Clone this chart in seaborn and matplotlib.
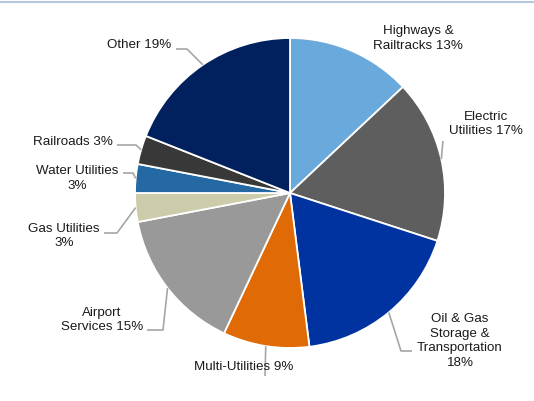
import numpy as np
import matplotlib
matplotlib.use("Agg")
import matplotlib.pyplot as plt
from matplotlib.lines import Line2D
import seaborn as sns

# Sector mix (percent of total)
sectors = ["Highways & Railtracks", "Electric Utilities", "Oil & Gas Storage & Transportation",
           "Multi-Utilities", "Airport Services", "Gas Utilities", "Water Utilities",
           "Railroads", "Other"]
shares = [13, 17, 18, 9, 15, 3, 3, 3, 19]
label_texts = ["Highways &\nRailtracks 13%", "Electric\nUtilities 17%",
               "Oil & Gas\nStorage &\nTransportation\n18%", "Multi-Utilities 9%",
               "Airport\nServices 15%", "Gas Utilities\n3%", "Water Utilities\n3%",
               "Railroads 3%", "Other 19%"]
colors = ["#6AA9DC", "#5E5E5E", "#0033A0", "#E06A05", "#999999",
          "#CCCCAA", "#2469A3", "#383838", "#00215E"]

sns.set_theme(style="white")
plt.rcParams["font.family"] = ["Liberation Sans", "DejaVu Sans"]

W, H, DPI = 534, 401, 100
CX, CY, R = 290, 193, 155  # pie centre and radius in pixels


def px(x, y):
    """Pixel position -> data coordinates (pie radius = 1)."""
    return (x - CX) / R, (CY - y) / R


fig = plt.figure(figsize=(W / DPI, H / DPI), dpi=DPI)
ax = fig.add_axes([0, 0, 1, 1])

wedges, _ = ax.pie(shares, colors=colors, startangle=90, counterclock=False,
                   radius=1, center=(0, 0), frame=True,
                   wedgeprops=dict(edgecolor="white", linewidth=1.3))
ax.set_xlim((0 - CX) / R, (W - CX) / R)
ax.set_ylim((CY - H) / R, CY / R)
ax.set_aspect("equal")
ax.axis("off")

# Label placement (pixel centre of text) and leader-line bend points
layout = [
    ((418, 38.5), []),
    ((486, 124), [(443, 141)]),
    ((460, 341), [(401, 351), (412, 351)]),
    ((243.5, 367), [(265, 376)]),
    ((102, 320), [(163, 330), (147, 330)]),
    ((64, 236), [(117, 233), (104, 233)]),
    ((77.5, 178.5), [(133, 173), (123, 173)]),
    ((72.5, 142), [(136, 145), (117, 145)]),
    ((139.5, 45), [(187, 49), (176, 49)]),
]

lead_color = "#A6A6A6"
for w, text, (pos, bends) in zip(wedges, label_texts, layout):
    if bends:
        mid = np.deg2rad((w.theta1 + w.theta2) / 2)
        pts = [(np.cos(mid), np.sin(mid))] + [px(*b) for b in bends]
        xs, ys = zip(*pts)
        ax.plot(xs, ys, color=lead_color, lw=1.2, solid_capstyle="butt", zorder=1)
    tx, ty = px(*pos)
    ax.text(tx, ty, text, ha="center", va="center", multialignment="center",
            fontsize=9.6, color="#1A1A1A", linespacing=1.32, zorder=3)

# thin rule along the top edge
fig.add_artist(Line2D([0, 1], [1 - 1.5 / H, 1 - 1.5 / H], transform=fig.transFigure,
                      color="#B4C8E0", lw=1.5))

fig.savefig("out.png", dpi=DPI)
